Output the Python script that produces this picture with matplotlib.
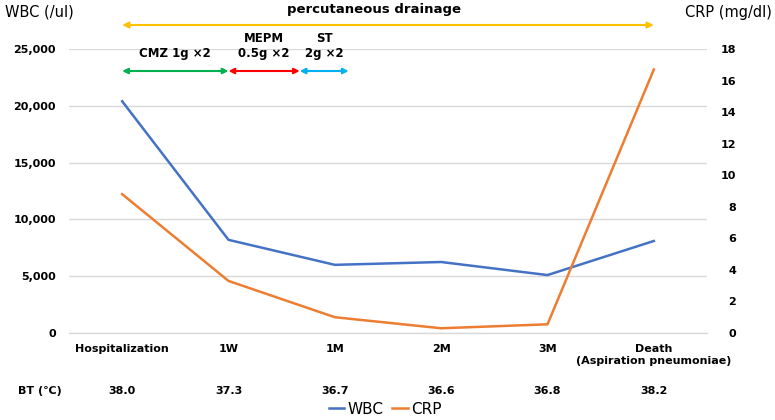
import matplotlib.pyplot as plt
from matplotlib.lines import Line2D
import numpy as np

plt.rcParams['font.family'] = ['DejaVu Sans', 'Noto Sans CJK JP']

# data
categories = ["Hospitalization", "1W", "1M", "2M", "3M", "Death\n(Aspiration pneumoniae)"]
wbc = [20400, 8200, 6000, 6250, 5100, 8100]
crp = [8.8, 3.3, 1.0, 0.3, 0.55, 16.7]
bt = ["38.0", "37.3", "36.7", "36.6", "36.8", "38.2"]
wbc_ticks = [0, 5000, 10000, 15000, 20000, 25000]
crp_ticks = [0, 2, 4, 6, 8, 10, 12, 14, 16, 18]

# antibiotic periods (category positions)
abx = [("CMZ 1g ×2", 0.0, 1.0, "#00B050"),
       ("MEPM\n0.5g ×2", 1.0, 1.67, "#FF0000"),
       ("ST\n2g ×2", 1.67, 2.13, "#00B0F0")]

c_wbc = "#4472C4"
c_crp = "#ED7D31"
grid_c = "#D9D9D9"

fig = plt.figure(figsize=(7.75, 4.2), dpi=100)
ax = fig.add_axes([69/775, 1-333/420, 638/775, 284/420])
ax2 = ax.twinx()

x = np.arange(len(categories))
ax.plot(x, wbc, color=c_wbc, lw=1.8, zorder=3)
ax2.plot(x, crp, color=c_crp, lw=1.8, zorder=3)

ax.set_xlim(-0.5, len(categories)-0.5)
ax.set_ylim(0, 25000)
ax2.set_ylim(0, 18)
ax.set_yticks(wbc_ticks)
ax.set_yticklabels([f"{v:,}" for v in wbc_ticks])
ax2.set_yticks(crp_ticks)
ax2.set_yticklabels([str(v) for v in crp_ticks])
ax.set_xticks(x)
ax.set_xticklabels(categories, fontsize=8, fontweight='bold', va='top')

ax.yaxis.grid(True, color=grid_c, lw=1)
ax.axhline(0, color=grid_c, lw=1, clip_on=False, zorder=0)
ax.set_axisbelow(True)
for a in (ax, ax2):
    for s in a.spines.values():
        s.set_visible(False)
ax.tick_params(axis='both', length=0)
ax.tick_params(axis='y', pad=9.5, labelsize=8)
ax.tick_params(axis='x', pad=8)
ax2.tick_params(axis='y', length=0, pad=21, labelsize=8)
for lab in ax.get_yticklabels():
    lab.set_fontweight('bold')
for lab in ax2.get_yticklabels():
    lab.set_fontweight('bold')
    lab.set_horizontalalignment('right')

# drainage arrow
ax.annotate("", xy=(5, 1.0845), xytext=(0, 1.0845), xycoords=ax.get_xaxis_transform(),
            arrowprops=dict(arrowstyle='<|-|>', color="#FFC000", lw=1.5,
                            mutation_scale=9, shrinkA=0, shrinkB=0), annotation_clip=False)
fig.text(374/775, 1-10/420, "percutaneous drainage", ha='center', va='center',
         fontsize=9.5, fontweight='bold')

# antibiotic arrows
y_ab = 0.9225
for lab, x0, x1, col in abx:
    ax.annotate("", xy=(x1, y_ab), xytext=(x0, y_ab), xycoords=ax.get_xaxis_transform(),
                arrowprops=dict(arrowstyle='<|-|>', color=col, lw=1.5,
                                mutation_scale=8, shrinkA=0, shrinkB=0), annotation_clip=False)
    ax.text((x0+x1)/2, y_ab+0.04, lab, transform=ax.get_xaxis_transform(),
            ha='center', va='bottom', fontsize=8.5, fontweight='bold', linespacing=1.15)

# axis titles
fig.text(5/775, 1-12/420, "WBC (/ul)", ha='left', va='center', fontsize=10.5)
fig.text(772/775, 1-12/420, "CRP (mg/dl)", ha='right', va='center', fontsize=10.5)

# body temperature row
fig.text(18/775, 1-391/420, "BT (℃)", ha='left', va='center', fontsize=8, fontweight='bold')
for i, v in enumerate(bt):
    ax.text(i, -0.204, v, transform=ax.get_xaxis_transform(), ha='center', va='center',
            fontsize=8, fontweight='bold')

handles = [Line2D([], [], color=c_wbc, lw=1.8), Line2D([], [], color=c_crp, lw=1.8)]
fig.legend(handles, ["WBC", "CRP"], loc='center', bbox_to_anchor=(385/775, 1-409/420),
           ncol=2, frameon=False, fontsize=11, handlelength=1.0, handletextpad=0.2,
           columnspacing=0.6, borderpad=0)

fig.savefig("out.png", dpi=100)
